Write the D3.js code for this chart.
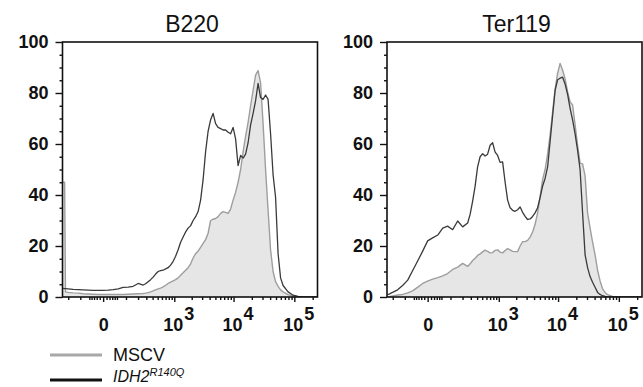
<!DOCTYPE html>
<html><head><meta charset="utf-8">
<script src="https://cdn.jsdelivr.net/npm/d3@7"></script>
<style>
html,body{margin:0;padding:0;background:#fff;}
svg{display:block;font-family:"Liberation Sans",Arial,Helvetica,sans-serif;}
</style></head>
<body><svg id="chart" width="643" height="387"></svg>
<script>
// Fluorescence intensity bins (x, biexponential display)
const bins = [-258,-240,-230,-201,-154,-115,-82,-56,-34,-15,0,15,34,56,82,115,154,201,258,
  291,326,366,409,457,510,567,631,700,777,861,954,1055,1167,1290,1425,1573,1736,1916,2113,
  2328,2566,2827,3114,3430,3777,4158,4577,5037,5544,6100,6712,7380,8118,8935,9826,10800,11880,13070,14370,
  15800,17370,19100,21000,23080,25370,27890,30650,33700,37040,40710,44750,49190,54070,59430,65320,
  78900,95330,115200,139100,168100,203000,240000];

// % of max, B220 panel
const b220IDH2 = [3.4,3.3,3.3,3.2,3.0,2.9,2.8,2.7,2.6,2.6,2.6,2.7,2.9,3.2,3.8,3.9,4.2,5.3,4.7,
  5.2,6.0,6.8,7.8,9.0,10.0,10.3,10.5,11.0,11.5,12.5,14,16,18.5,21.5,23.5,25.5,27,28,30,
  31.5,33.5,38,46,57,65,69.5,72,68,66.5,66,65.5,65.5,64.6,64,66.5,62,51.5,55.5,54.5,
  56,60.5,67.5,72,77,83.8,78.2,77.5,79.2,77.5,64,48,39,17,7.5,4.5,
  2.0,0.7,0.2,0,0,0,0];
const b220MSCV = [45,45,2.0,1.8,1.6,1.5,1.3,1.2,1.1,1.0,1.0,1.0,1.0,1.0,1.0,1.1,1.2,1.3,1.4,
  1.5,1.7,2.0,2.4,2.8,3.2,3.5,4.0,4.6,5.3,5.8,6.3,6.8,7.5,8.5,9.5,10.5,11.5,13,15.3,
  17,18,19.5,21,22.5,25,30,30.5,30.8,31.5,32.8,33.5,33.2,32.8,34.5,38,41,45,50,57,
  63,68.5,75,81,87,88.8,84,68,50,34,18.5,10,6,4.2,2.8,2,
  0.9,0.3,0,0,0,0,0];

// % of max, Ter119 panel
const ter119IDH2 = [0.9,1.1,1.3,1.8,2.8,4.5,6.6,10.3,14,18,22,23.2,24.3,27,27.8,26.4,29.8,27.5,29,
  32.5,37.5,43.5,51,55,56.2,55.3,56,59.5,60.5,56.8,55.5,52.8,53,45,38,35,34,33.6,34.2,
  35.3,33.2,31.6,30.4,30.6,31.6,33,35,39,43.5,46.5,51,61,71,81,85.2,85.8,86.2,83.5,79.5,
  74,69.5,64,57.5,50,33,16.5,11.5,8,5.8,3.8,1.8,1,0.5,0.2,0,
  0,0,0,0,0,0,0];
const ter119MSCV = [0.1,0.15,0.2,0.4,0.8,1.0,1.6,2.4,3.8,5.3,6.2,7.0,7.6,8.3,9.2,10.8,11.7,13.2,12,
  13,14.3,15.2,16.3,16.9,17.7,18.4,17.9,17.3,17.4,18.3,18.5,17.6,17.3,18.2,19,18.5,17.9,17.8,17.8,
  20,21.7,21.7,22.2,23.5,25.5,28.5,33,39.5,46,50,56,63.5,72.5,81.5,87.7,91.6,89,85.5,80.5,
  76.5,75.3,67.5,59.5,52.5,52.2,47.5,33,27,21.5,16.5,10.5,6.3,3.2,1.8,0.9,
  0.2,0,0,0,0,0,0];

const panelTitles = ["B220", "Ter119"];
const yMajorTicks = [0,20,40,60,80,100];
const yMinorTicks = [5,10,15,25,30,35,45,50,55,65,70,75,85,90,95];
const xMajorTicks = [0,1e3,1e4,1e5];
const xMajorLabels = [["0",""],["10","3"],["10","4"],["10","5"]];
const xMinorTicks = [-200,-100,-50,-40,-30,-20,-10,10,20,30,40,50,
  100,200,300,400,500,600,700,800,900,
  2000,3000,4000,5000,6000,7000,8000,9000,
  20000,30000,40000,50000,60000,70000,80000,90000,200000];
const legendItems = [{label:"MSCV", sup:"", italic:false, key:"mscv"},
                     {label:"IDH2", sup:"R140Q", italic:true, key:"idh2"}];

const colors = {mscvLine:"#9e9e9e", mscvFill:"#e6e6e6", idh2Line:"#3a3a3a"};

const svg = d3.select("#chart");
const pw = 255, ph = 255, topY = 42;
const panelX = [62.5, 387];

const x = d3.scaleSymlog().constant(73).domain([-266, 240000]).range([0, pw]);
const y = d3.scaleLinear().domain([0, 100]).range([ph, 0]);

const panels = [
  {title: panelTitles[0], idh2: b220IDH2, mscv: b220MSCV},
  {title: panelTitles[1], idh2: ter119IDH2, mscv: ter119MSCV}
];

const line = d3.line().x((d,i) => x(bins[i])).y(d => y(d));
const area = d3.area().x((d,i) => x(bins[i])).y0(y(0)).y1(d => y(d));

panels.forEach((p, pi) => {
  const g = svg.append("g").attr("transform", `translate(${panelX[pi]},${topY})`);
  const cid = "clip" + pi;
  g.append("clipPath").attr("id", cid).append("rect").attr("x",0).attr("y",0).attr("width",pw).attr("height",ph);

  const plot = g.append("g").attr("clip-path", `url(#${cid})`);
  plot.append("path").datum(p.mscv).attr("d", area).attr("fill", colors.mscvFill);
  plot.append("path").datum(p.mscv).attr("d", line).attr("fill","none")
      .attr("stroke", colors.mscvLine).attr("stroke-width", 1.4).attr("stroke-linejoin","round");
  plot.append("path").datum(p.idh2).attr("d", line).attr("fill","none")
      .attr("stroke", colors.idh2Line).attr("stroke-width", 1.3).attr("stroke-linejoin","round");

  // frame
  g.append("rect").attr("x",0).attr("y",0).attr("width",pw).attr("height",ph)
    .attr("fill","none").attr("stroke","#111").attr("stroke-width",1.6);

  // y axis
  const yMinor = g.append("g").call(d3.axisLeft(y).tickValues(yMinorTicks).tickSize(3).tickFormat(""));
  const yMajor = g.append("g").call(d3.axisLeft(y).tickValues(yMajorTicks).tickSize(7).tickPadding(7));
  [yMinor, yMajor].forEach(a => { a.select(".domain").remove(); a.selectAll("line").attr("stroke","#111").attr("stroke-width",1.4); });
  yMajor.selectAll("text").attr("font-size", 18).attr("font-weight","bold").attr("fill","#111")
    .attr("font-family",'"Liberation Sans",Arial,sans-serif');

  // x axis
  const xMinor = g.append("g").attr("transform",`translate(0,${ph})`)
    .call(d3.axisBottom(x).tickValues(xMinorTicks).tickSize(3).tickFormat(""));
  const xMajor = g.append("g").attr("transform",`translate(0,${ph})`)
    .call(d3.axisBottom(x).tickValues(xMajorTicks).tickSize(5).tickFormat(""));
  [xMinor, xMajor].forEach(a => { a.select(".domain").remove(); a.selectAll("line").attr("stroke","#111").attr("stroke-width",1.4); });
  xMajor.selectAll(".tick").each(function(d, i) {
    const lab = xMajorLabels[i];
    const t = d3.select(this).append("text")
      .attr("y", 34).attr("x", lab[1] ? 4 : 0).attr("text-anchor","middle")
      .attr("font-size", 18).attr("font-weight","bold").attr("fill","#111");
    t.append("tspan").text(lab[0]);
    if (lab[1]) t.append("tspan").attr("dy", -11).attr("dx", 1).text(lab[1]);
  });

  // title
  g.append("text").attr("x", pw/2 + 2).attr("y", 32 - topY).attr("text-anchor","middle")
    .attr("font-size", 23).attr("fill","#111").text(p.title);
});

// legend
const leg = svg.append("g");
legendItems.forEach((it, i) => {
  const ly = i ? 380 : 355;
  leg.append("line").attr("x1", 50).attr("x2", 102).attr("y1", ly).attr("y2", ly)
    .attr("stroke", it.key === "mscv" ? "#a8a8a8" : "#111").attr("stroke-width", 3.2);
  const t = leg.append("text").attr("x", 113).attr("y", i ? 382 : 361)
    .attr("font-size", i ? 16 : 18).attr("fill","#111").attr("font-style", it.italic ? "italic" : "normal");
  t.append("tspan").text(it.label);
  if (it.sup) t.append("tspan").attr("dy", -6).attr("font-size", 11).text(it.sup);
});
</script></body></html>
